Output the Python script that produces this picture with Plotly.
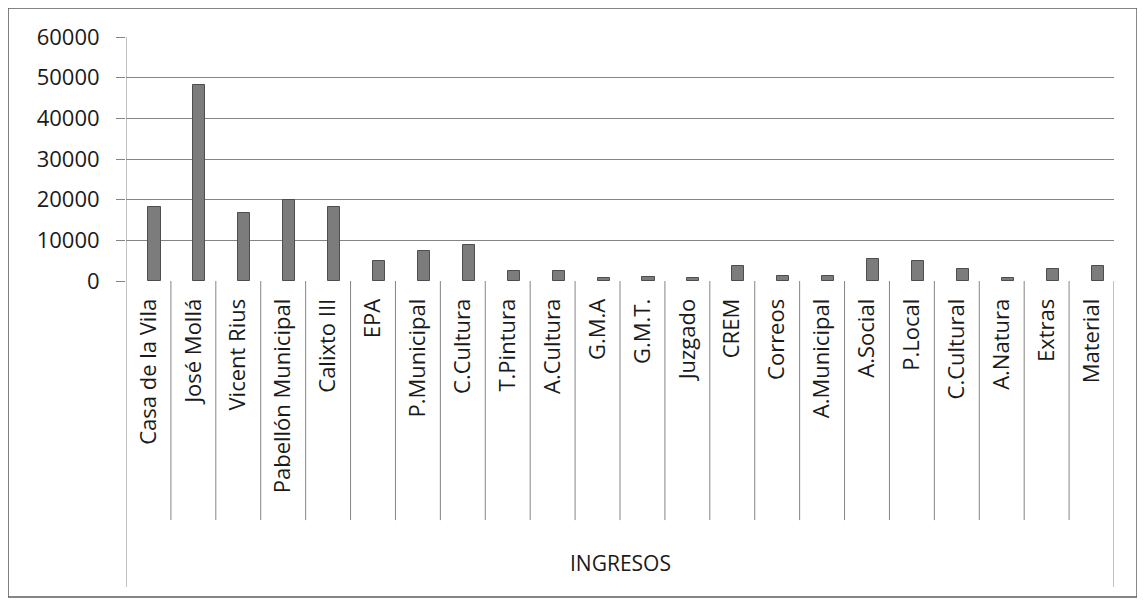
import plotly.graph_objects as go

categories = ["Casa de la Vila", "José Mollá", "Vicent Rius", "Pabellón Municipal",
              "Calixto III", "EPA", "P.Municipal", "C.Cultura", "T.Pintura", "A.Cultura",
              "G.M.A", "G.M.T.", "Juzgado", "CREM", "Correos", "A.Municipal",
              "A.Social", "P.Local", "C.Cultural", "A.Natura", "Extras", "Material"]
values = [18100, 48100, 16700, 19800, 18100, 4800, 7400, 8800, 2500, 2500,
          800, 900, 750, 3700, 1200, 1150, 5350, 5000, 2900, 800, 2900, 3700]
group_label = "INGRESOS"
y_ticks = [0, 10000, 20000, 30000, 40000, 50000, 60000]

FONT = "Open Sans"
GRID = "#858585"
TXT = "#1a1a1a"

n = len(categories)
xs = list(range(n))

fig = go.Figure()
fig.add_trace(go.Bar(
    x=xs, y=values, width=0.27, offset=0.0,
    marker=dict(color="#7c7c7c", line=dict(color="#4d4d4d", width=1)),
    showlegend=False,
))

shapes = []
# category separators
for i in range(n + 1):
    edge = (i == 0) or (i == n)
    shapes.append(dict(type="line", xref="x", yref="paper",
                       x0=i - 0.5, x1=i - 0.5,
                       y0=1.0 if i == 0 else 0.0,
                       y1=-1.254 if edge else -0.98,
                       line=dict(color=GRID, width=1)))
# outer frame
shapes.append(dict(type="rect", xref="paper", yref="paper",
                   x0=-0.1194, x1=1.0233, y0=-1.295, y1=1.119,
                   line=dict(color="#5e5e5e", width=1.5)))

fig.update_layout(
    width=1137, height=592,
    margin=dict(l=118, r=31, t=29, b=319),
    plot_bgcolor="white", paper_bgcolor="white",
    font=dict(family=FONT, size=22, color=TXT),
    shapes=shapes,
    annotations=[dict(text=group_label, xref="paper", yref="paper",
                      x=0.5, y=-1.156, showarrow=False,
                      xanchor="center", yanchor="middle",
                      font=dict(family=FONT, size=21, color=TXT))],
    bargap=0,
)
fig.update_xaxes(
    range=[-0.5, n - 0.5],
    tickmode="array", tickvals=xs, ticktext=categories,
    tickangle=-90, ticks="outside", ticklen=8, tickcolor="rgba(0,0,0,0)",
    showgrid=False, showline=False, zeroline=False,
    tickfont=dict(family=FONT, size=22, color=TXT),
)
fig.update_yaxes(
    range=[0, 60000], tickvals=y_ticks, ticktext=[str(v) for v in y_ticks],
    showgrid=True, gridcolor=GRID, gridwidth=1,
    ticks="outside", ticklen=9, tickcolor=GRID,
    ticklabelstandoff=12,
    zeroline=False, showline=False,
    tickfont=dict(family=FONT, size=22, color=TXT),
)

fig.write_html("out.html")
